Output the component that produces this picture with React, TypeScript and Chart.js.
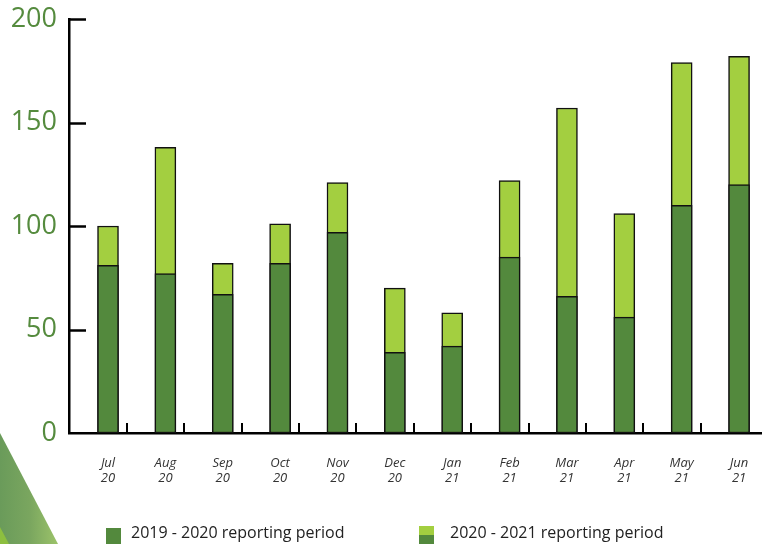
import React, { useEffect, useRef } from 'react';
import { Chart, registerables } from 'chart.js';

Chart.register(...registerables);

const months = ['Jul', 'Aug', 'Sep', 'Oct', 'Nov', 'Dec', 'Jan', 'Feb', 'Mar', 'Apr', 'May', 'Jun'];
const years = ['20', '20', '20', '20', '20', '20', '21', '21', '21', '21', '21', '21'];
const period2019 = [81, 77, 67, 82, 97, 39, 42, 85, 66, 56, 110, 120];
const period2020 = [100, 138, 82, 101, 121, 70, 58, 122, 157, 106, 179, 182];
const yTicks = [0, 50, 100, 150, 200];
const seriesLabels = ['2019 - 2020 reporting period', '2020 - 2021 reporting period'];

const DARK = '#53893d';
const LIGHT = '#a3cf40';
const TEXT_GREEN = '#558b3e';
const FONT = '"Open Sans", "Noto Sans", sans-serif';

const axisMarks = {
  id: 'axisMarks',
  afterDraw(chart: any) {
    const { ctx, chartArea, scales } = chart;
    const x = scales.x;
    const y = scales.y;
    ctx.save();
    ctx.strokeStyle = '#000';
    ctx.lineWidth = 2.5;
    yTicks.forEach((v) => {
      if (v === 0) return;
      const py = Math.round(y.getPixelForValue(v)) + 0.5;
      ctx.beginPath();
      ctx.moveTo(chartArea.left, py);
      ctx.lineTo(chartArea.left + 17, py);
      ctx.stroke();
    });
    ctx.lineWidth = 2;
    for (let k = 0; k < months.length - 1; k++) {
      const px = Math.round(x.getPixelForValue(k + 0.33));
      ctx.beginPath();
      ctx.moveTo(px, chartArea.bottom);
      ctx.lineTo(px, chartArea.bottom - 10);
      ctx.stroke();
    }
    ctx.restore();
  },
};

export default function App() {
  const canvasRef = useRef<HTMLCanvasElement | null>(null);

  useEffect(() => {
    const canvas = canvasRef.current;
    if (!canvas) return;
    const common = {
      borderColor: '#111',
      borderWidth: 1.5,
      borderSkipped: false,
      barThickness: 21,
      grouped: false,
    };
    const chart = new Chart(canvas, {
      type: 'bar',
      data: {
        datasets: [
          {
            ...common,
            label: seriesLabels[0],
            data: period2019.map((v, i) => ({ x: i, y: v })),
            backgroundColor: DARK,
            order: 0,
          },
          {
            ...common,
            label: seriesLabels[1],
            data: period2020.map((v, i) => ({ x: i, y: v })),
            backgroundColor: LIGHT,
            order: 1,
          },
        ] as any,
      },
      options: {
        animation: false,
        responsive: false,
        maintainAspectRatio: false,
        layout: { padding: { top: 19, right: 0, bottom: 51, left: 0 } },
        plugins: {
          legend: { display: false },
          tooltip: { enabled: false },
        },
        scales: {
          x: {
            type: 'linear',
            offset: false,
            min: -0.68,
            max: 11.4,
            afterBuildTicks: (scale: any) => {
              scale.ticks = months.map((_, i) => ({ value: i }));
            },
            afterFit: (scale: any) => {
              scale.height = 60;
              scale.paddingLeft = 0;
              scale.paddingRight = 0;
            },
            ticks: {
              callback: (value: any) => [months[value], years[value]],
              font: { family: FONT, size: 13, style: 'italic' },
              color: '#333',
              padding: 22,
              maxRotation: 0,
              autoSkip: false,
            },
            grid: { display: false, drawTicks: false },
            border: { display: true, color: '#000', width: 2.5 },
          },
          y: {
            min: 0,
            max: 200,
            afterBuildTicks: (scale: any) => {
              scale.ticks = yTicks.map((v) => ({ value: v }));
            },
            afterFit: (scale: any) => {
              scale.width = 69;
              scale.paddingTop = 0;
              scale.paddingBottom = 0;
            },
            ticks: {
              font: { family: FONT, size: 27 },
              color: TEXT_GREEN,
              padding: 12,
            },
            grid: { display: false, drawTicks: false },
            border: { display: true, color: '#000', width: 2.5 },
          },
        },
      } as any,
      plugins: [axisMarks],
    });
    return () => chart.destroy();
  }, []);

  const legendText: React.CSSProperties = {
    position: 'absolute',
    fontFamily: FONT,
    fontSize: 16,
    color: '#222',
    whiteSpace: 'nowrap',
    lineHeight: '16px',
  };

  return (
    <div style={{ position: 'absolute', left: 0, top: 0, width: 762, height: 544, overflow: 'hidden', background: '#fff' }}>
      <div
        style={{
          position: 'absolute',
          left: 0,
          top: 0,
          width: 762,
          height: 544,
          clipPath: 'polygon(0px 433px, 58px 544px, 0px 544px)',
          background: 'linear-gradient(to right, #6a9b5a 0px, #7aa65f 30px, #9cc36a 58px)',
        }}
      />
      <div
        style={{
          position: 'absolute',
          left: 0,
          top: 0,
          width: 762,
          height: 544,
          clipPath: 'polygon(0px 527px, 9px 544px, 0px 544px)',
          background: '#8dbf3f',
        }}
      />
      <canvas ref={canvasRef} width={762} height={544} style={{ position: 'absolute', left: 0, top: 0 }} />
      <div style={{ position: 'absolute', left: 106, top: 528, width: 15, height: 16, background: DARK }} />
      <div style={{ ...legendText, left: 131, top: 524 }}>{seriesLabels[0]}</div>
      <div style={{ position: 'absolute', left: 419, top: 526, width: 15, height: 9, background: LIGHT }} />
      <div style={{ position: 'absolute', left: 419, top: 535, width: 15, height: 9, background: DARK }} />
      <div style={{ ...legendText, left: 450, top: 524 }}>{seriesLabels[1]}</div>
    </div>
  );
}
